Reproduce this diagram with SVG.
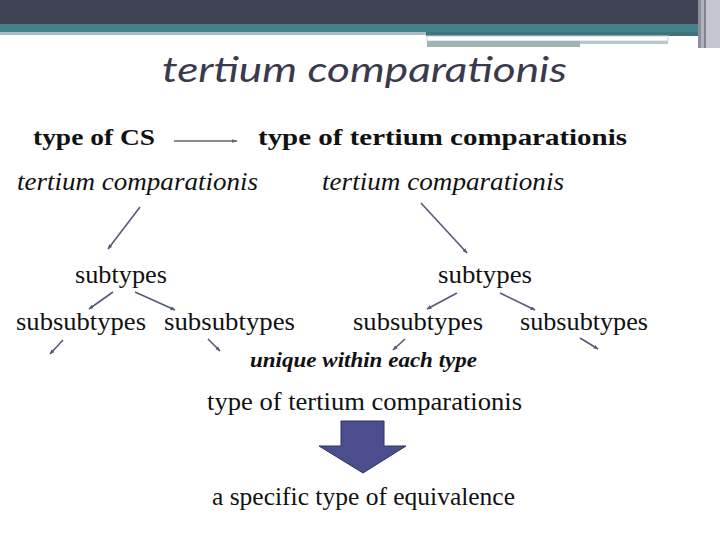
<svg xmlns="http://www.w3.org/2000/svg" width="720" height="540" viewBox="0 0 720 540">
<defs>
<marker id="ah" viewBox="0 0 10 10" refX="9" refY="5" markerWidth="5" markerHeight="5" orient="auto" markerUnits="userSpaceOnUse">
<path d="M0,1 L10,5 L0,9 z" fill="#555a78"/>
</marker>
<marker id="ahg" viewBox="0 0 10 10" refX="9" refY="5" markerWidth="6" markerHeight="6" orient="auto" markerUnits="userSpaceOnUse">
<path d="M0,2 L10,5 L0,8 z" fill="#666"/>
</marker>
<style>
.t{font-family:"Liberation Serif","Times New Roman",serif;font-size:26px;fill:#111}
.b{font-family:"Liberation Serif","Times New Roman",serif;font-size:23px;font-weight:bold;fill:#111}
.i{font-family:"Liberation Serif","Times New Roman",serif;font-size:26px;font-style:italic;fill:#111}
.bi{font-family:"Liberation Serif","Times New Roman",serif;font-size:20px;font-weight:bold;font-style:italic;fill:#111}
.title{font-family:Lato,"Open Sans",sans-serif;font-size:35px;font-style:italic;fill:#3a3a4c}
.c{stroke:#555a78;stroke-width:1.6;fill:none;marker-end:url(#ah)}
</style>
</defs>
<rect width="720" height="540" fill="#fff"/>
<g id="header">
<rect x="0" y="0" width="720" height="24" fill="#3f4454"/>
<rect x="0" y="24" width="720" height="9" fill="#44818b"/>
<rect x="0" y="32" width="426" height="3" fill="#a8bcc2"/>
<rect x="426" y="32" width="272" height="4" fill="#3f747e"/>
<rect x="427" y="36" width="241" height="5" fill="#fff" stroke="#c8d4d6" stroke-width="1"/>
<rect x="427" y="41" width="153" height="6" fill="#a3b3b5"/>
<rect x="580" y="41" width="88" height="3" fill="#b9c9ca"/>
<rect x="698" y="0" width="3" height="48" fill="#8a8f9c"/>
<rect x="701" y="0" width="3" height="48" fill="#b0b3bc"/>
<rect x="704" y="0" width="2" height="48" fill="#7f8490"/>
<rect x="706" y="0" width="14" height="48" fill="#c5c6ce"/>
</g>
<g id="title"><text class="title" x="162" y="82" textLength="405" lengthAdjust="spacingAndGlyphs">tertium comparationis</text></g>
<g id="n-cs"><text class="b" x="33" y="145" textLength="122" lengthAdjust="spacingAndGlyphs">type of CS</text></g>
<g id="n-type"><text class="b" x="258" y="145" textLength="369" lengthAdjust="spacingAndGlyphs">type of tertium comparationis</text></g>
<g id="n-tc1"><text class="i" x="17" y="190" textLength="241" lengthAdjust="spacingAndGlyphs">tertium comparationis</text></g>
<g id="n-tc2"><text class="i" x="322" y="190" textLength="242" lengthAdjust="spacingAndGlyphs">tertium comparationis</text></g>
<g id="n-sub1"><text class="t" x="75" y="283" textLength="92" lengthAdjust="spacingAndGlyphs">subtypes</text></g>
<g id="n-sub2"><text class="t" x="438" y="283" textLength="94" lengthAdjust="spacingAndGlyphs">subtypes</text></g>
<g id="n-ss1"><text class="t" x="16" y="330" textLength="130" lengthAdjust="spacingAndGlyphs">subsubtypes</text></g>
<g id="n-ss2"><text class="t" x="164" y="330" textLength="131" lengthAdjust="spacingAndGlyphs">subsubtypes</text></g>
<g id="n-ss3"><text class="t" x="353" y="330" textLength="130" lengthAdjust="spacingAndGlyphs">subsubtypes</text></g>
<g id="n-ss4"><text class="t" x="520" y="330" textLength="128" lengthAdjust="spacingAndGlyphs">subsubtypes</text></g>
<g id="n-unique"><text class="bi" x="250" y="367" textLength="227" lengthAdjust="spacingAndGlyphs">unique within each type</text></g>
<g id="n-type2"><text class="t" x="207" y="410" textLength="315" lengthAdjust="spacingAndGlyphs">type of tertium comparationis</text></g>
<g id="n-equiv"><text class="t" x="212" y="505" textLength="303" lengthAdjust="spacingAndGlyphs">a specific type of equivalence</text></g>
<g id="connectors">
<line x1="174" y1="141" x2="237" y2="141" stroke="#666" stroke-width="1.4" marker-end="url(#ahg)"/>
<line class="c" x1="140" y1="207" x2="108" y2="249"/>
<line class="c" x1="421" y1="203" x2="467" y2="253"/>
<line class="c" x1="113" y1="292" x2="89" y2="309"/>
<line class="c" x1="135" y1="292" x2="175" y2="310"/>
<line class="c" x1="457" y1="293" x2="427" y2="309"/>
<line class="c" x1="500" y1="293" x2="535" y2="310"/>
<line class="c" x1="63" y1="340" x2="50" y2="354"/>
<line class="c" x1="208" y1="339" x2="220" y2="351"/>
<line class="c" x1="405" y1="339" x2="393" y2="350"/>
<line class="c" x1="580" y1="338" x2="598" y2="349"/>
<path id="block-arrow" d="M341,421 L384,421 L384,446 L406,446 L363,473 L319,446 L341,446 Z" fill="#4b4e8c" stroke="#2f3266" stroke-width="1"/>
</g>
</svg>
